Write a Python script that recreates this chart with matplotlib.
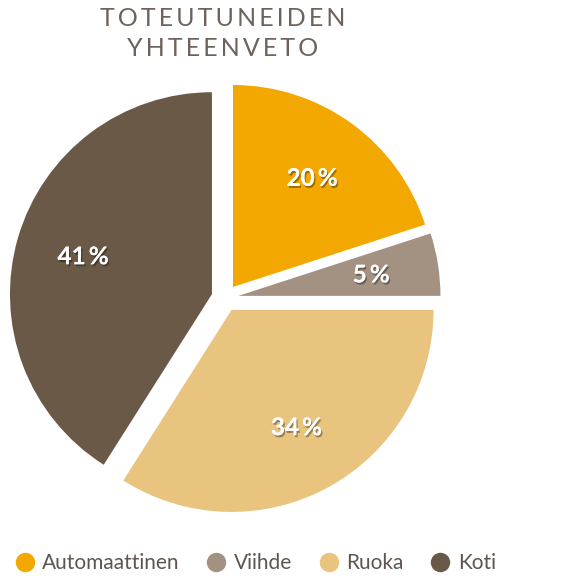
import matplotlib.pyplot as plt
import matplotlib.patheffects as pe
from matplotlib.lines import Line2D

plt.rcParams['font.family'] = ['Lato', 'DejaVu Sans']

# data
categories = ["Automaattinen", "Viihde", "Ruoka", "Koti"]
shares = [20, 5, 34, 41]
colors = ["#F2A800", "#A39181", "#E8C47E", "#6B5948"]
title_lines = ["TOTEUTUNEIDEN", "YHTEENVETO"]

W, H = 585, 585
fig = plt.figure(figsize=(W / 100, H / 100), dpi=100)
ax = fig.add_axes([0, 0, 1, 1])

cx, cy, r = 225, H - 298, 202
# explode is in data units here (pixels)
wedges, texts, autotexts = ax.pie(
    shares, colors=colors, startangle=90, counterclock=False,
    explode=[13.6] * len(shares), radius=r, center=(cx, cy),
    autopct=lambda p: f"{p:.0f}\u2009%", pctdistance=0.665,
    wedgeprops=dict(linewidth=0), frame=True)
ax.set_xlim(0, W)
ax.set_ylim(0, H)
ax.set_aspect("equal")
ax.axis("off")

shadow = [pe.withSimplePatchShadow(offset=(1, -1.5), shadow_rgbFace="black", alpha=0.35), pe.Normal()]
for t in autotexts:
    t.set_color("white")
    t.set_fontsize(17.5)
    t.set_fontweight("bold")
    t.set_path_effects(shadow)

# title with letter spacing
sp = "\u2009"
for i, line in enumerate(title_lines):
    fig.text(223 / W, 1 - (19 + i * 29) / H, sp.join(line), ha="center", va="center",
             fontsize=18, color="#6E625A")

handles = [Line2D([], [], marker="o", linestyle="none", markersize=14,
                  markerfacecolor=c, markeredgewidth=0) for c in colors]
fig.legend(handles, categories, loc="center", bbox_to_anchor=(255 / W, 1 - 563 / H),
           ncol=4, frameon=False, fontsize=15, handletextpad=0.35, columnspacing=1.25,
           labelcolor="#5F554E", handlelength=1.0)

fig.savefig("out.png", dpi=100)
